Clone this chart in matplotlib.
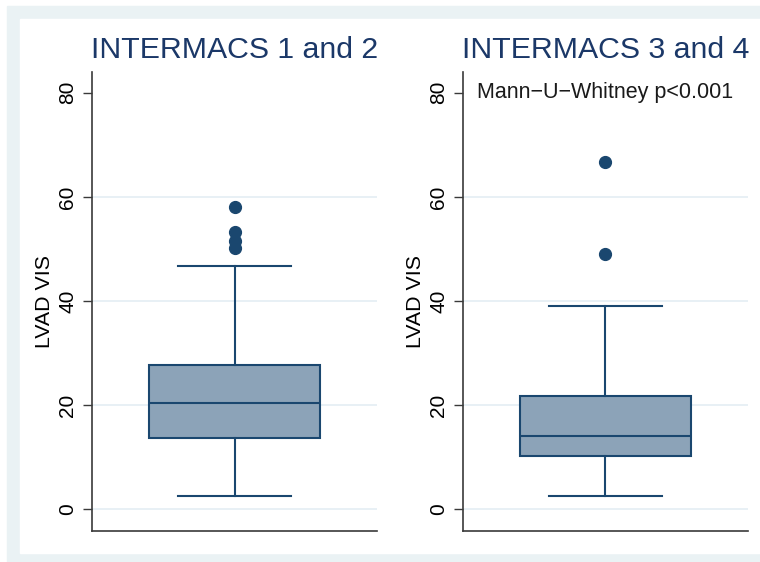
"""
lvad_vis_boxplot.py
-------------------
Box plots of LVAD VIS by INTERMACS profile group (1-2 vs 3-4),
drawn as two side-by-side panels in a Stata s2color-like style.

Output: out.png
"""

import matplotlib
matplotlib.use("Agg")
import matplotlib.pyplot as plt
from matplotlib.patches import Rectangle

# -- Data ----------------------------------------------------------------------

GROUPS   = ["INTERMACS 1 and 2", "INTERMACS 3 and 4"]
Q1       = [13.6, 10.2]
MEDIAN   = [20.3, 14.0]
Q3       = [27.6, 21.7]
WHIS_LO  = [2.5, 2.5]
WHIS_HI  = [46.7, 39.0]
FLIERS   = [[58.1, 53.3, 51.5, 50.2], [66.7, 49.0]]

Y_TICKS  = [0, 20, 40, 60, 80]
GRID_AT  = [0, 20, 40, 60]
Y_LABEL  = "LVAD VIS"
NOTE     = "Mann\u2212U\u2212Whitney p<0.001"

# -- Style ---------------------------------------------------------------------

NAVY      = "#1a476f"
BOX_FILL  = "#8ca3b8"
TITLE_COL = "#1b3868"
BAND      = "#eaf2f4"
GRID_COL  = "#e6eff4"
AXIS_COL  = "#3a3a3a"

plt.rcParams["font.family"] = ["Liberation Sans", "DejaVu Sans"]

# -- Figure --------------------------------------------------------------------

fig = plt.figure(figsize=(7.6, 5.62), dpi=100, facecolor="white")

# graph region: light band with a white plot region inside
fig.patches.append(Rectangle((0.0092, 0.0), 0.9908, 0.9893,
                             transform=fig.transFigure, color=BAND, zorder=-2))
fig.patches.append(Rectangle((0.0263, 0.0160), 0.9737, 0.9502,
                             transform=fig.transFigure, color="white", zorder=-1))

lefts = [0.1211, 0.6092]
axes = []
for i, name in enumerate(GROUPS):
    ax = fig.add_axes([lefts[i], 0.0552, 0.375, 0.8167])
    ax.set_facecolor("none")
    axes.append(ax)

    stats = [{
        "q1": Q1[i], "med": MEDIAN[i], "q3": Q3[i],
        "whislo": WHIS_LO[i], "whishi": WHIS_HI[i],
        "fliers": FLIERS[i],
    }]
    ax.bxp(
        stats, positions=[0.5], widths=0.6, capwidths=0.395,
        patch_artist=True, showfliers=True,
        boxprops=dict(facecolor=BOX_FILL, edgecolor=NAVY, linewidth=1.5),
        medianprops=dict(color=NAVY, linewidth=1.5),
        whiskerprops=dict(color=NAVY, linewidth=1.5),
        capprops=dict(color=NAVY, linewidth=1.5),
        flierprops=dict(marker="o", markersize=8.5, markerfacecolor=NAVY,
                        markeredgecolor=NAVY, linestyle="none"),
        zorder=3,
    )

    # light horizontal grid (none at the top tick)
    for g in GRID_AT:
        ax.axhline(g, color=GRID_COL, linewidth=1.3, zorder=1)

    ax.set_xlim(0, 1)
    ax.set_ylim(-4.2, 84.0)
    ax.set_xticks([])
    ax.set_yticks(Y_TICKS)
    ax.tick_params(axis="y", labelrotation=90, labelsize=15, length=6.5,
                   width=1.0, pad=4, color=AXIS_COL)
    for lbl in ax.get_yticklabels():
        lbl.set_va("center")

    for side in ["top", "right"]:
        ax.spines[side].set_visible(False)
    for side in ["left", "bottom"]:
        ax.spines[side].set_color(AXIS_COL)
        ax.spines[side].set_linewidth(1.2)

    ax.set_ylabel(Y_LABEL, fontsize=15.4, va="center")
    ax.yaxis.set_label_coords(-0.168, 0.5)
    ax.set_title(name, fontsize=21.8, color=TITLE_COL, pad=10)

# test note in the second panel
axes[1].text(0.5, 80, NOTE, fontsize=15.5, ha="center", va="center",
             color="#1a1a1a", zorder=4)

fig.savefig("out.png", dpi=100, facecolor="white")
print("Plot saved: out.png")
